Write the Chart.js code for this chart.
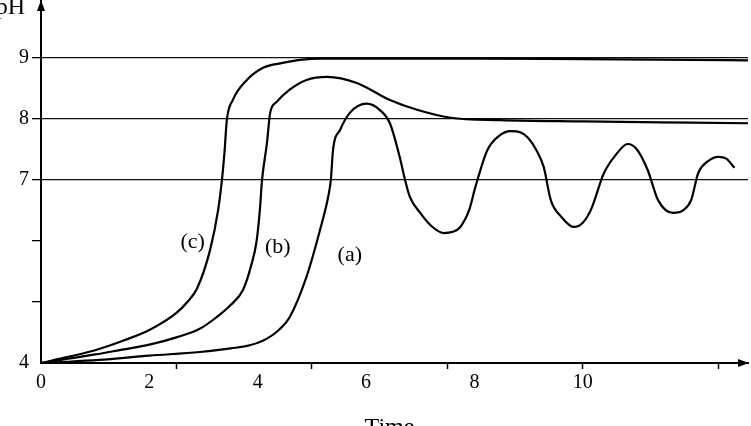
<!DOCTYPE html>
<html>
<head>
<meta charset="utf-8">
<script src="https://cdn.jsdelivr.net/npm/chart.js@4.4.1/dist/chart.umd.min.js"></script>
<style>
  html, body { margin: 0; padding: 0; background: #fff; }
  #wrap { width: 751px; height: 426px; }
</style>
</head>
<body>
<div id="wrap"><canvas id="phChart" width="751" height="426"></canvas></div>
<script>
// curve (a)
var aTime = [0, 0.5, 1.07, 2, 2.93, 3.5, 3.85, 4.17, 4.4, 4.59, 4.9, 5.15, 5.3, 5.35, 5.39, 5.52, 5.7, 6.01, 6.25, 6.44, 6.62, 6.72, 6.81, 7.0, 7.2, 7.43, 7.6, 7.74, 7.9, 8.02, 8.24, 8.45, 8.67, 8.85, 8.98, 9.15, 9.28, 9.41, 9.6, 9.83, 10.0, 10.15, 10.39, 10.6, 10.83, 11.0, 11.2, 11.39, 11.67, 11.85, 12.0, 12.13, 12.3, 12.5, 12.65, 12.8];
var aPH = [4.0, 4.02, 4.05, 4.12, 4.18, 4.24, 4.29, 4.4, 4.55, 4.75, 5.41, 6.18, 6.72, 7.0, 7.49, 7.82, 8.1, 8.25, 8.15, 7.93, 7.38, 7.0, 6.72, 6.46, 6.25, 6.13, 6.15, 6.23, 6.5, 6.89, 7.49, 7.72, 7.8, 7.78, 7.7, 7.48, 7.21, 6.67, 6.4, 6.23, 6.3, 6.51, 7.11, 7.4, 7.59, 7.5, 7.16, 6.67, 6.46, 6.5, 6.67, 7.11, 7.3, 7.38, 7.35, 7.2];
// curve (b)
var bTime = [0, 0.5, 1, 1.5, 2, 2.5, 2.93, 3.24, 3.5, 3.73, 3.88, 3.98, 4.04, 4.08, 4.17, 4.23, 4.35, 4.59, 4.9, 5.28, 5.83, 6.44, 6.94, 7.56, 8.48, 10, 12, 13.05];
var bPH = [4.0, 4.07, 4.14, 4.22, 4.3, 4.42, 4.56, 4.75, 4.95, 5.2, 5.6, 6.0, 6.51, 7.0, 7.6, 8.1, 8.28, 8.48, 8.64, 8.69, 8.59, 8.31, 8.15, 8.02, 7.98, 7.96, 7.94, 7.93];
// curve (c)
var cTime = [0, 0.5, 1, 1.5, 2, 2.5, 2.7, 2.88, 3.12, 3.27, 3.34, 3.39, 3.43, 3.54, 3.8, 4.1, 4.46, 4.78, 5.2, 6, 8, 10, 12, 13.05];
var cPH = [4.0, 4.1, 4.21, 4.36, 4.54, 4.82, 5.0, 5.22, 5.85, 6.51, 7.0, 7.49, 7.98, 8.31, 8.64, 8.84, 8.92, 8.97, 8.99, 8.99, 8.99, 8.98, 8.97, 8.96];

var yTicks = [4, 5, 6, 7, 8, 9];
var yLabelled = [4, 7, 8, 9];
var refLines = [7, 8, 9];
var xTicks = [0, 2, 2.5, 4, 5, 6, 7.5, 8, 10, 12.5];
var xLabelled = [0, 2, 4, 6, 8, 10];

var curveNames = ['(c)', '(b)', '(a)'];
var nameTime = [2.8, 4.37, 5.7];
var namePH = [5.98, 5.89, 5.77];

function pts(xs, ys) {
  return xs.map(function (v, i) { return { x: v, y: ys[i] }; });
}

function curve(xs, ys) {
  return {
    data: pts(xs, ys),
    borderColor: '#000',
    borderWidth: 2.2,
    pointRadius: 0,
    fill: false,
    cubicInterpolationMode: 'monotone'
  };
}

var serif = '"Liberation Serif", "DejaVu Serif", serif';

var extras = {
  id: 'extras',
  afterDraw: function (chart) {
    var ctx = chart.ctx, area = chart.chartArea;
    var xs = chart.scales.x, ys = chart.scales.y;
    ctx.save();
    ctx.fillStyle = '#000';
    // axis arrowheads
    ctx.beginPath();
    ctx.moveTo(area.left, area.top);
    ctx.lineTo(area.left - 4, area.top + 11);
    ctx.lineTo(area.left + 4, area.top + 11);
    ctx.closePath();
    ctx.fill();
    ctx.beginPath();
    ctx.moveTo(area.right + 1, area.bottom);
    ctx.lineTo(area.right - 10, area.bottom - 4);
    ctx.lineTo(area.right - 10, area.bottom + 4);
    ctx.closePath();
    ctx.fill();
    // curve names
    ctx.font = '22px ' + serif;
    ctx.textAlign = 'center';
    ctx.textBaseline = 'middle';
    curveNames.forEach(function (n, i) {
      ctx.fillText(n, xs.getPixelForValue(nameTime[i]), ys.getPixelForValue(namePH[i]));
    });
    // axis titles
    ctx.font = '24px ' + serif;
    ctx.textAlign = 'right';
    ctx.textBaseline = 'alphabetic';
    ctx.fillText('pH', 25, 14);
    ctx.textAlign = 'center';
    ctx.fillText('Time', (area.left + area.right) / 2 - 5, area.bottom + 71);
    ctx.restore();
  }
};

new Chart(document.getElementById('phChart'), {
  type: 'line',
  data: {
    datasets: [curve(aTime, aPH), curve(bTime, bPH), curve(cTime, cPH)]
  },
  options: {
    responsive: false,
    animation: false,
    events: [],
    layout: { padding: { top: 0, right: 3, left: 0, bottom: 0 } },
    plugins: { legend: { display: false }, tooltip: { enabled: false } },
    scales: {
      x: {
        type: 'linear',
        min: 0,
        max: 13.05,
        afterBuildTicks: function (s) { s.ticks = xTicks.map(function (v) { return { value: v }; }); },
        afterFit: function (s) { s.height = 63; s.paddingLeft = 0; s.paddingRight = 0; },
        border: { display: true, color: '#000', width: 2 },
        grid: {
          drawOnChartArea: false,
          drawTicks: true,
          tickLength: 6,
          tickWidth: 1.5,
          tickColor: function (c) {
            var v = c.tick ? c.tick.value : 0;
            return (v > 0 && v % 2.5 === 0) ? '#000' : 'rgba(0,0,0,0)';
          }
        },
        ticks: {
          autoSkip: false,
          maxRotation: 0,
          padding: 2,
          color: '#000',
          font: { family: serif, size: 20 },
          callback: function (v) { return xLabelled.indexOf(v) >= 0 ? String(v) : ''; }
        }
      },
      y: {
        type: 'linear',
        min: 4,
        max: 9.95,
        afterBuildTicks: function (s) { s.ticks = yTicks.map(function (v) { return { value: v }; }); },
        afterFit: function (s) { s.width = 41; s.paddingTop = 0; s.paddingBottom = 0; },
        border: { display: true, color: '#000', width: 2 },
        grid: {
          drawTicks: true,
          tickLength: 9,
          lineWidth: 1.3,
          color: function (c) {
            var v = c.tick ? c.tick.value : 0;
            return refLines.indexOf(v) >= 0 ? '#111' : 'rgba(0,0,0,0)';
          },
          tickColor: function (c) {
            var v = c.tick ? c.tick.value : 0;
            return v > 4 ? '#000' : 'rgba(0,0,0,0)';
          }
        },
        ticks: {
          autoSkip: false,
          padding: 3,
          color: '#000',
          font: { family: serif, size: 20 },
          callback: function (v) { return yLabelled.indexOf(v) >= 0 ? String(v) : ''; }
        }
      }
    }
  },
  plugins: [extras]
});
</script>
</body>
</html>
